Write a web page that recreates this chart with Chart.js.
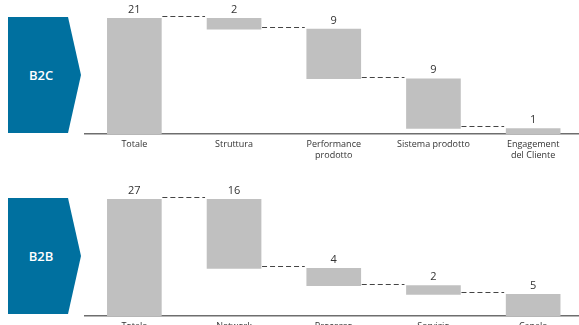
<!DOCTYPE html>
<html>
<head>
<meta charset="utf-8">
<script src="https://cdn.jsdelivr.net/npm/chart.js@4/dist/chart.umd.min.js"></script>
<style>
  html, body { margin: 0; padding: 0; background: #fff; }
  body { width: 579px; height: 325px; overflow: hidden; position: relative; font-family: "Open Sans", sans-serif; }
  .tag {
    position: absolute; left: 8px; width: 73px; height: 116px;
    background: #00709f;
    clip-path: polygon(0 0, 60px 0, 73px 50%, 60px 100%, 0 100%);
    color: #fff; font-size: 13px; font-weight: 600;
  }
  .tag span { position: absolute; left: 33px; top: 50%; transform: translate(-50%, -50%); }
  .box { position: absolute; left: 0; width: 583px; }
  .box canvas { display: block; }
</style>
</head>
<body>
<div class="tag" style="top:17px"><span>B2C</span></div>
<div class="tag" style="top:198px"><span>B2B</span></div>
<div class="box" style="top:0; height:166px"><canvas id="chart-b2c"></canvas></div>
<div class="box" style="top:165px; height:185px"><canvas id="chart-b2b"></canvas></div>
<script>
// B2C data
const categoriesB2C = ['Totale', 'Struttura', ['Performance', 'prodotto'], 'Sistema prodotto', ['Engagement', 'del Cliente']];
const valuesB2C = [21, 2, 9, 9, 1];

// B2B data
const categoriesB2B = ['Totale', 'Network', 'Processo', 'Servizio', 'Canale'];
const valuesB2B = [27, 16, 4, 2, 5];

// turn total + steps into floating [bottom, top] ranges
function waterfall(values) {
    const out = [[0, values[0]]];
    let level = values[0];
    for (let i = 1; i < values.length; i++) {
        out.push([level - values[i], level]);
        level -= values[i];
    }
    return out;
}

// dashed connectors + value labels
const waterfallDecor = {
    id: 'waterfallDecor',
    afterDatasetsDraw(chart) {
        const ctx = chart.ctx;
        const meta = chart.getDatasetMeta(0);
        const data = chart.data.datasets[0].data;
        const yScale = chart.scales.y;
        const steps = chart.data.datasets[0].steps;
        ctx.save();
        ctx.strokeStyle = '#444';
        ctx.lineWidth = 1.2;
        ctx.setLineDash([5, 3]);
        for (let i = 0; i < meta.data.length - 1; i++) {
            const a = meta.data[i], b = meta.data[i + 1];
            const y = Math.round(yScale.getPixelForValue(data[i + 1][1])) - 1.5;
            ctx.beginPath();
            ctx.moveTo(a.x + a.width / 2 + 1, y);
            ctx.lineTo(b.x - b.width / 2 - 2, y);
            ctx.stroke();
        }
        ctx.setLineDash([]);
        ctx.fillStyle = '#333';
        ctx.font = '11px "Open Sans"';
        ctx.textAlign = 'center';
        ctx.textBaseline = 'bottom';
        meta.data.forEach((bar, i) => {
            const top = yScale.getPixelForValue(data[i][1]);
            ctx.fillText(String(steps[i]), bar.x, top - 3);
        });
        ctx.restore();
    }
};

function makeChart(id, labels, values, padTop, axisHeight) {
    const ctx = document.getElementById(id).getContext('2d');
    return new Chart(ctx, {
        type: 'bar',
        data: {
            labels: labels,
            datasets: [{
                data: waterfall(values),
                steps: values,
                backgroundColor: '#c0c0c0',
                borderWidth: 0,
                barThickness: 54
            }]
        },
        options: {
            responsive: true,
            maintainAspectRatio: false,
            animation: false,
            layout: { padding: { top: padTop, left: 84.5, right: 0, bottom: 0 } },
            plugins: { legend: { display: false }, tooltip: { enabled: false } },
            scales: {
                x: {
                    grid: { display: false, drawTicks: false },
                    border: { display: true, color: '#6e6e6e', width: 1.5 },
                    ticks: {
                        color: '#333',
                        font: { family: 'Open Sans', size: 9, lineHeight: 1.2 },
                        padding: 5,
                        maxRotation: 0,
                        autoSkip: false
                    },
                    afterFit(scale) {
                        scale.height = axisHeight;
                        scale.paddingLeft = 0;
                        scale.paddingRight = 0;
                    }
                },
                y: {
                    display: false,
                    min: 0,
                    max: values[0]
                }
            }
        },
        plugins: [waterfallDecor]
    });
}

makeChart('chart-b2c', categoriesB2C, valuesB2C, 18, 32);
makeChart('chart-b2b', categoriesB2B, valuesB2B, 34, 34);
</script>
</body>
</html>
